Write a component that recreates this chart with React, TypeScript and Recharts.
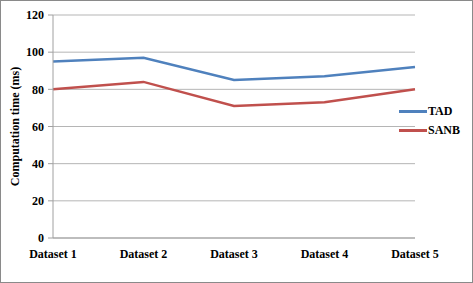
import { LineChart, Line, XAxis, YAxis, CartesianGrid } from 'recharts'

const categories = ['Dataset 1', 'Dataset 2', 'Dataset 3', 'Dataset 4', 'Dataset 5']
const tad = [95, 97, 85, 87, 92]
const sanb = [80, 84, 71, 73, 80]
const yTicks = [0, 20, 40, 60, 80, 100, 120]

const series = [
  { key: 'TAD', color: '#4F81BD' },
  { key: 'SANB', color: '#C0504D' },
]

const data = categories.map((name, i) => ({ name, TAD: tad[i], SANB: sanb[i] }))

const FONT = "'Times New Roman', 'Liberation Serif', serif"

export default function App() {
  return (
    <div
      style={{
        position: 'absolute',
        left: 0,
        top: 0,
        width: 473,
        height: 283,
        boxSizing: 'border-box',
        border: '1px solid #8a8a8a',
        background: '#fff',
      }}
    >
      <LineChart width={471} height={281} data={data} margin={{ top: 14, right: 57, bottom: 14, left: 0 }}>
        <CartesianGrid vertical={false} stroke="#b5b5b5" />
        <XAxis
          dataKey="name"
          stroke="#a0a0a0"
          tickLine={false}
          height={30}
          tick={{ fontSize: 12, fontFamily: FONT, fontWeight: 'bold', fill: '#000' }}
          tickMargin={5}
        />
        <YAxis
          width={52}
          domain={[0, 120]}
          ticks={yTicks}
          stroke="#a0a0a0"
          tickSize={5}
          tickMargin={4}
          tick={{ fontSize: 12, fontFamily: FONT, fontWeight: 'bold', fill: '#000' }}
          label={{
            value: 'Computation time (ms)',
            angle: -90,
            position: 'insideLeft',
            offset: 14,
            style: { fontSize: 12, fontFamily: FONT, fontWeight: 'bold', fill: '#000', textAnchor: 'middle' },
          }}
        />
        {series.map((s) => (
          <Line
            key={s.key}
            type="linear"
            dataKey={s.key}
            stroke={s.color}
            strokeWidth={2.5}
            dot={false}
            isAnimationActive={false}
          />
        ))}
      </LineChart>
      <div
        style={{
          position: 'absolute',
          left: 398,
          top: 101,
          fontFamily: FONT,
          fontWeight: 'bold',
          fontSize: 12,
          color: '#000',
        }}
      >
        {series.map((s) => (
          <div key={s.key} style={{ display: 'flex', alignItems: 'center', height: 19 }}>
            <span style={{ display: 'inline-block', width: 28, height: 3, background: s.color, marginRight: 1 }} />
            <span>{s.key}</span>
          </div>
        ))}
      </div>
    </div>
  )
}
